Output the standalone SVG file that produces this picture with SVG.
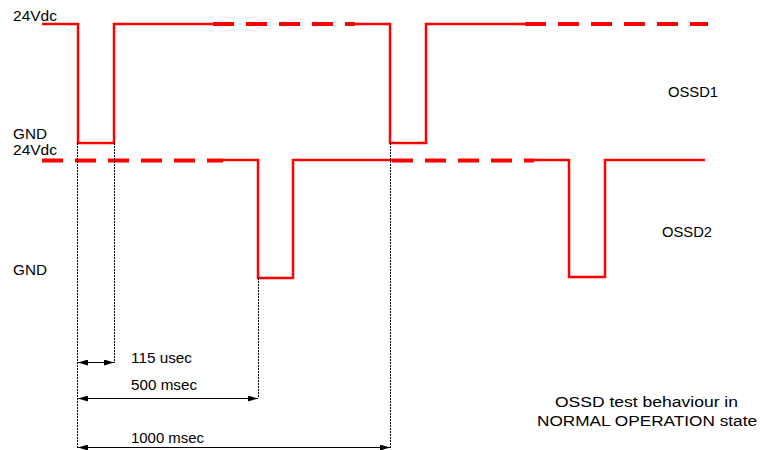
<svg xmlns="http://www.w3.org/2000/svg" width="760" height="450" viewBox="0 0 760 450">
<style>
.sig{fill:none;stroke:#ff0000;stroke-width:2.5;stroke-linejoin:miter}
.dash{fill:none;stroke:#ff0000;stroke-width:4;stroke-dasharray:21 12;stroke-linecap:butt}
.ref{fill:none;stroke:#000;stroke-width:1;stroke-dasharray:2 1}
.dim{fill:none;stroke:#000;stroke-width:1}
text{font-family:"Liberation Sans",Arial,sans-serif;font-size:14px;fill:#000}
</style>
<defs>
<marker id="ah" viewBox="0 0 10 6" refX="10" refY="3" markerWidth="10" markerHeight="6" markerUnits="userSpaceOnUse" orient="auto-start-reverse">
<path d="M0,0 L10,3 L0,6 Z" fill="#000"/>
</marker>
</defs>
<rect width="760" height="450" fill="#fff"/>
<g id="labels">
<text x="13" y="21" textLength="44" lengthAdjust="spacingAndGlyphs">24Vdc</text>
<text x="13" y="139" textLength="34" lengthAdjust="spacingAndGlyphs">GND</text>
<text x="13" y="155" textLength="44" lengthAdjust="spacingAndGlyphs">24Vdc</text>
<text x="13" y="275" textLength="34" lengthAdjust="spacingAndGlyphs">GND</text>
</g>
<g id="ossd1">
<path class="sig" d="M42,24 H78 V143 H114 V24 H213"/>
<path class="dash" d="M213,24 H355"/>
<path class="sig" d="M355,24 H390 V143 H426 V24 H525"/>
<path class="dash" d="M525,24 H708"/>
<text x="668" y="97" textLength="50" lengthAdjust="spacingAndGlyphs">OSSD1</text>
</g>
<g id="ossd2">
<path class="dash" d="M42,160.5 H223"/>
<path class="sig" d="M223,160 H258 V278 H293 V160 H392"/>
<path class="dash" d="M392,160.5 H534"/>
<path class="sig" d="M534,160 H569 V277 H605 V160 H705"/>
<text x="662" y="237" textLength="50" lengthAdjust="spacingAndGlyphs">OSSD2</text>
</g>
<g id="connectors">
<line class="ref" x1="77.5" y1="143" x2="77.5" y2="448"/>
<line class="ref" x1="114.5" y1="143" x2="114.5" y2="363"/>
<line class="ref" x1="258.5" y1="278" x2="258.5" y2="398"/>
<line class="ref" x1="390.5" y1="143" x2="390.5" y2="448"/>
<line class="dim" x1="78" y1="362.5" x2="114" y2="362.5" marker-start="url(#ah)" marker-end="url(#ah)"/>
<line class="dim" x1="78" y1="398.5" x2="258" y2="398.5" marker-start="url(#ah)" marker-end="url(#ah)"/>
<line class="dim" x1="78" y1="447.5" x2="390" y2="447.5" marker-start="url(#ah)" marker-end="url(#ah)"/>
</g>
<g id="dimlabels">
<text x="131" y="363" textLength="61" lengthAdjust="spacingAndGlyphs">115 usec</text>
<text x="131" y="390" textLength="66" lengthAdjust="spacingAndGlyphs">500 msec</text>
<text x="131" y="443" textLength="73" lengthAdjust="spacingAndGlyphs">1000 msec</text>
</g>
<g id="caption">
<text x="555" y="407" textLength="183" lengthAdjust="spacingAndGlyphs">OSSD test behaviour in</text>
<text x="537" y="426" textLength="220" lengthAdjust="spacingAndGlyphs">NORMAL OPERATION state</text>
</g>
</svg>
